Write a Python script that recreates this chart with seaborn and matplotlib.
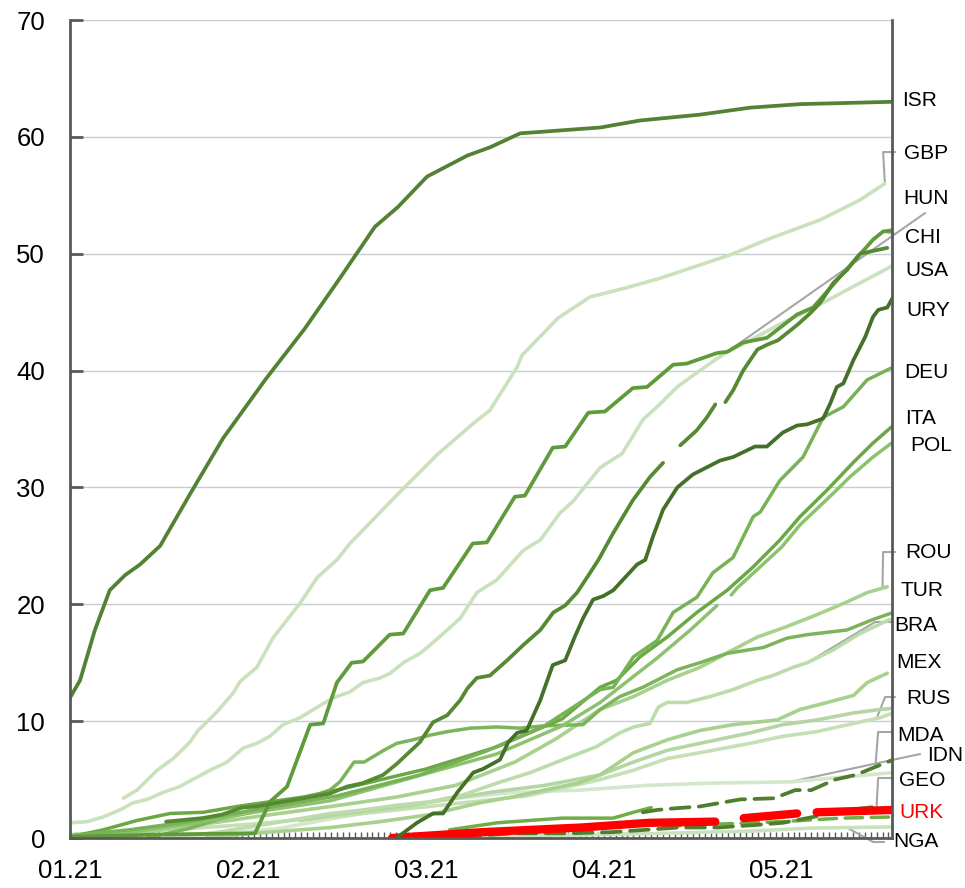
import numpy as np
import pandas as pd
import matplotlib
matplotlib.use("Agg")
import matplotlib.pyplot as plt
from matplotlib.ticker import MultipleLocator
import seaborn as sns

# days counted from 01.01.2021, values = % of population with a first dose
ISR_DAYS = [0, 1.7, 4.2, 6.7, 9.3, 11.8, 15.2, 20.2, 25.8, 32.9, 39.6, 45.5, 51.4, 55.3, 60.2, 67, 70.8, 75.9, 89.4, 96.1, 106.2, 114.7, 123.1, 138.6]
ISR_VALS = [12, 13.5, 17.8, 21.2, 22.5, 23.4, 25, 29.4, 34.2, 39.2, 43.6, 47.9, 52.3, 54, 56.6, 58.4, 59.1, 60.3, 60.8, 61.4, 61.9, 62.5, 62.8, 63.0]

GBP_DAYS = [9, 11.3, 14.7, 17.4, 20.2, 21.6, 24.8, 27.5, 28.7, 31.5, 34.2, 38.8, 41.7, 45, 47.2, 51.4, 55.6, 61.9, 68.3, 70.8, 75.4, 76.2, 82.3, 87.7, 93.9, 99.5, 111.3, 117.5, 126.5, 133.2, 137.4]
GBP_VALS = [3.4, 4.1, 5.8, 6.8, 8.2, 9.2, 10.8, 12.4, 13.4, 14.6, 17.1, 20.1, 22.3, 23.8, 25.2, 27.4, 29.6, 32.8, 35.6, 36.6, 40.3, 41.3, 44.5, 46.3, 47.1, 47.9, 49.9, 51.2, 52.9, 54.6, 56.0]

USA_DAYS = [0, 2.9, 5.6, 8.4, 10.6, 13, 15.7, 18.5, 21.4, 23.6, 26.5, 29.2, 31.5, 33.7, 35.9, 38.8, 41.7, 44.4, 47.2, 49.4, 52.3, 54, 56.2, 59, 60.7, 63.6, 65.8, 68.6, 72, 76.4, 79.3, 82.6, 84.8, 89.4, 93.1, 96.6, 99, 102.4, 105.1, 107.9, 110.8, 114.7, 120.2, 123.1, 127.7, 133.2, 136.6, 138.8]
USA_VALS = [1.3, 1.4, 1.8, 2.4, 3.0, 3.3, 3.9, 4.4, 5.2, 5.8, 6.5, 7.7, 8.1, 8.7, 9.7, 10.3, 11.2, 12.0, 12.5, 13.3, 13.7, 14.1, 15.0, 15.8, 16.5, 17.8, 18.8, 21.0, 22.1, 24.6, 25.5, 27.8, 28.8, 31.7, 32.9, 35.8, 36.9, 38.6, 39.6, 40.6, 41.6, 42.6, 44.1, 44.8, 46.0, 47.5, 48.4, 49.0]

CHI_DAYS = [0, 15, 31.2, 33.7, 36.6, 40.5, 42.7, 45, 47.5, 49.4, 53.9, 56.2, 60.7, 62.9, 67.9, 70.3, 75, 76.7, 81.4, 83.5, 87.4, 90.2, 94.9, 97.3, 101.7, 104, 109.1, 110.8, 113.5, 117.5, 122.6, 125.3, 129.8, 135.4, 137.1, 138.6]
CHI_VALS = [0.1, 0.3, 0.4, 3.1, 4.4, 9.7, 9.8, 13.3, 15.0, 15.1, 17.4, 17.5, 21.2, 21.4, 25.2, 25.3, 29.2, 29.3, 33.4, 33.5, 36.4, 36.5, 38.5, 38.6, 40.5, 40.6, 41.5, 41.6, 42.4, 42.8, 44.8, 45.4, 48.0, 51.2, 51.9, 52.0]

HUN_DAYS = [16.2, 22.3, 25.6, 29, 31.4, 35.9, 40.5, 43.8, 46.7, 49.4, 52.8, 55, 59, 61.2, 63.6, 65.8, 67, 68.6, 70.8, 73.7, 76.4, 79.3, 81.5, 83.5, 85.5, 87.7, 89.1, 91.6, 94.9, 97.8, 100, 101.5, 102.9, 105.7, 107.4, 108.8, 109.6, 110.5, 111.8, 113.5, 115.9, 117.5, 119.4, 122.6, 124.8, 126.5, 128.7, 131, 133.2, 137.8]
HUN_VALS = [1.4, 1.7, 2.0, 2.6, 2.7, 3.1, 3.5, 3.8, 4.4, 4.7, 5.4, 6.3, 8.2, 9.9, 10.5, 11.8, 12.8, 13.7, 13.9, 15.2, 16.5, 17.8, 19.3, 19.9, 21.0, 22.7, 23.8, 26.1, 28.9, 30.9, 32.1, np.nan, 33.6, 34.9, 36.0, 37.1, np.nan, 37.3, 38.3, 40.0, 41.8, 42.2, 42.6, 43.9, 44.9, 45.8, 47.5, 48.6, 50.0, 50.5]

URY_DAYS = [55.3, 58.5, 61.2, 62.9, 65.3, 68, 69.6, 72.5, 73.9, 75.4, 77, 79.3, 81.4, 83.5, 85.1, 86.5, 88.2, 89.9, 91.6, 95.6, 97, 98.3, 100, 102.4, 105, 109.6, 111.8, 115.5, 117.5, 120.2, 122.6, 124.3, 127, 128.2, 129.3, 130.4, 132.1, 134.1, 135.4, 136.3, 137.8, 138.8]
URY_VALS = [0.1, 1.3, 2.1, 2.1, 3.9, 5.6, 5.9, 6.7, 8.2, 9.0, 9.2, 11.8, 14.8, 15.2, 17.2, 18.8, 20.4, 20.7, 21.2, 23.4, 23.8, 25.8, 28.1, 30.0, 31.1, 32.3, 32.6, 33.5, 33.5, 34.7, 35.3, 35.4, 35.9, 37.2, 38.6, 38.9, 40.9, 42.9, 44.6, 45.2, 45.4, 46.3]

DEU_DAYS = [0, 10, 20, 31, 45, 59, 70, 80, 89.4, 91.6, 95, 99, 101.7, 105.7, 108.4, 111.8, 115.2, 116.4, 119.7, 123.6, 127, 130.4, 134.4, 138.8]
DEU_VALS = [0.2, 0.7, 1.4, 2.4, 3.6, 5.4, 7.4, 9.6, 12.7, 12.9, 15.5, 16.9, 19.3, 20.6, 22.7, 24.0, 27.5, 27.9, 30.6, 32.6, 36.0, 36.9, 39.2, 40.3]

ITA_DAYS = [0, 5.6, 11.3, 16.9, 22.5, 28.2, 33.7, 39.3, 45, 60, 72, 83, 89.4, 92.2, 96.1, 100.7, 105.7, 110.8, 115.2, 119.7, 123.1, 127.7, 132, 135.4, 138.8]
ITA_VALS = [0.1, 0.7, 1.5, 2.1, 2.2, 2.7, 3.1, 3.5, 4.1, 5.9, 7.8, 10.2, 12.9, 13.5, 15.5, 17.2, 19.3, 21.2, 23.2, 25.5, 27.5, 29.8, 32.1, 33.8, 35.3]

POL_DAYS = [0, 10, 20, 31, 44, 60, 72, 83, 89.4, 99, 104.6, 109.1, 110.3, 111.5, 112.5, 120, 123.1, 128.7, 131.5, 135.4, 138.8]
POL_VALS = [0.1, 0.5, 1.2, 2.2, 3.2, 5.5, 7.2, 9.6, 11.6, 15.4, 17.8, 19.9, np.nan, 20.8, 21.4, 24.9, 26.8, 29.5, 30.9, 32.6, 33.9]

TUR_DAYS = [13, 20, 25, 31, 36, 41, 43.8, 45.5, 47.9, 49.6, 52.9, 55.1, 57.8, 60.7, 63.6, 67.5, 72, 75.9, 80, 86.5, 89.4, 92.7, 96.6, 102.4, 106.2, 110.8, 116.9, 120.9, 124.3, 131, 135.4, 138.8]
TUR_VALS = [0.0, 0.8, 1.6, 2.3, 2.9, 3.6, 4.1, 4.8, 6.5, 6.5, 7.5, 8.1, 8.4, 8.8, 9.1, 9.4, 9.5, 9.4, 9.6, 9.7, 11.0, 12.1, 12.9, 14.4, 15.0, 15.8, 16.3, 17.1, 17.4, 17.8, 18.7, 19.3]

ROU_DAYS = [0, 10, 20, 31, 44, 55, 65, 75, 82, 89.4, 95, 100.7, 106.2, 111.8, 115.9, 120.9, 125.9, 131, 134.4, 137.8]
ROU_VALS = [0.0, 0.3, 1.0, 1.8, 2.7, 3.5, 4.5, 6.5, 8.5, 11.0, 12.1, 13.5, 14.6, 16.1, 17.2, 18.1, 19.1, 20.2, 21.0, 21.5]

BRA_DAYS = [16, 25, 31, 44, 49.4, 55.1, 60.7, 66.3, 72, 77.6, 83.1, 88.7, 92.7, 95, 97.8, 99.2, 100.7, 104, 107.9, 111.8, 115.9, 118.5, 121.9, 124.3, 128.7, 133.2, 138.2]
BRA_VALS = [0.0, 0.5, 1.0, 2.1, 2.4, 2.8, 3.1, 3.7, 4.7, 5.6, 6.7, 7.8, 9.0, 9.5, 9.8, 11.2, 11.6, 11.6, 12.1, 12.7, 13.5, 13.9, 14.6, 15.0, 16.1, 17.5, 18.7]

MEX_DAYS = [23, 31, 44, 52.3, 60.7, 69, 74.5, 80, 85.6, 89.4, 95, 100.7, 106.2, 111.8, 119.2, 123.1, 127.7, 132.1, 134.4, 137.8]
MEX_VALS = [0.05, 0.4, 0.9, 1.4, 2.0, 3.0, 3.5, 4.1, 4.7, 5.4, 7.3, 8.4, 9.2, 9.7, 10.1, 11.0, 11.6, 12.2, 13.3, 14.1]

RUS_DAYS = [0, 20, 31, 44, 55, 66, 77, 89.4, 95, 100.7, 106.2, 114.7, 120.2, 125.9, 132.1, 136.6, 138.8]
RUS_VALS = [0.3, 0.8, 1.2, 1.8, 2.4, 3.0, 3.6, 5.0, 5.8, 6.8, 7.3, 8.1, 8.7, 9.1, 9.8, 10.3, 10.7]

SRB_DAYS = [38.8, 45, 56.2, 70.8, 80, 89.4, 95, 100.7, 106.2, 114.7, 120.2, 125.9, 132.1, 136.6, 138.8]
SRB_VALS = [1.5, 2.0, 2.7, 3.9, 4.5, 5.4, 6.5, 7.5, 8.1, 9.0, 9.7, 10.1, 10.7, 11.0, 11.1]

IDN_DAYS = [20, 35, 52.3, 63.6, 74.7, 86, 97.3, 108.4, 121.4, 130, 138.8]
IDN_VALS = [0.1, 0.8, 2.4, 3.3, 3.9, 4.1, 4.5, 4.7, 4.8, 5.2, 5.6]

ARM_DAYS = [64, 72, 83, 91.6, 95, 98]
ARM_VALS = [0.7, 1.3, 1.7, 1.7, 2.2, 2.6]

MDA_DAYS = [96.6, 99, 101, 106.2, 113, 118.7, 122.3, 125, 129, 132.5, 138.8]
MDA_VALS = [2.2, 2.4, 2.5, 2.7, 3.3, 3.4, 4.1, 4.1, 5.0, 5.4, 6.7]

GEO_DAYS = [66, 74.5, 83.6, 91.4, 102.7, 109.4, 115.2, 120.2, 125.3, 131, 136.6]
GEO_VALS = [0.1, 0.4, 0.4, 0.5, 0.9, 0.9, 1.1, 1.3, 1.8, 2.4, 2.7]

KAZ_DAYS = [100, 110, 120, 130, 138.8]
KAZ_VALS = [1.0, 1.2, 1.4, 1.7, 1.8]

URK_DAYS = [54.3, 69.5, 86.3, 97.6, 108.8, 110, 113.6, 122.6, 124.5, 125.9, 138.8]
URK_VALS = [0.0, 0.5, 0.9, 1.3, 1.4, np.nan, 1.7, 2.1, np.nan, 2.2, 2.4]

NGA_DAYS = [63, 80, 100, 115, 125, 138.8]
NGA_VALS = [0.05, 0.2, 0.4, 0.6, 0.85, 0.95]

TICK_DAYS = [0, 30, 60, 90, 120]
TICK_LABELS = ["01.21", "02.21", "03.21", "04.21", "05.21"]

sns.set_theme(style="white")
plt.rcParams["font.family"] = ["Liberation Sans", "DejaVu Sans"]

# name, days, values, colour, width, dashed
series = [
    ("NGA", NGA_DAYS, NGA_VALS, "#c9e2bd", 2.6, False),
    ("IDN", IDN_DAYS, IDN_VALS, "#d3e8ca", 2.6, False),
    ("RUS", RUS_DAYS, RUS_VALS, "#c5e0b4", 2.6, False),
    ("SRB", SRB_DAYS, SRB_VALS, "#b5d6a2", 2.6, False),
    ("MEX", MEX_DAYS, MEX_VALS, "#a9d18e", 2.6, False),
    ("BRA", BRA_DAYS, BRA_VALS, "#bcdcaa", 2.6, False),
    ("ROU", ROU_DAYS, ROU_VALS, "#a9d18e", 2.6, False),
    ("GBP", GBP_DAYS, GBP_VALS, "#c9e2bd", 2.6, False),
    ("USA", USA_DAYS, USA_VALS, "#c9e2bd", 2.6, False),
    ("TUR", TUR_DAYS, TUR_VALS, "#7cb45c", 2.5, False),
    ("POL", POL_DAYS, POL_VALS, "#8cc26e", 2.5, False),
    ("ITA", ITA_DAYS, ITA_VALS, "#6aa844", 2.5, False),
    ("DEU", DEU_DAYS, DEU_VALS, "#78b257", 2.5, False),
    ("ARM", ARM_DAYS, ARM_VALS, "#70ad47", 2.5, False),
    ("KAZ", KAZ_DAYS, KAZ_VALS, "#70ad47", 2.5, True),
    ("GEO", GEO_DAYS, GEO_VALS, "#4f7e2e", 2.7, True),
    ("MDA", MDA_DAYS, MDA_VALS, "#4f7e2e", 2.7, True),
    ("URK", URK_DAYS, URK_VALS, "#ff0000", 6.0, False),
    ("CHI", CHI_DAYS, CHI_VALS, "#5f9b3b", 2.7, False),
    ("HUN", HUN_DAYS, HUN_VALS, "#558a33", 2.7, False),
    ("URY", URY_DAYS, URY_VALS, "#44702a", 2.7, False),
    ("ISR", ISR_DAYS, ISR_VALS, "#548235", 2.7, False),
]

fig = plt.figure(figsize=(9.65, 8.88), dpi=100)
ax = fig.add_axes([70 / 965, 50 / 888, 822 / 965, 818 / 888])

for name, days, vals, col, lw, dashed in series:
    df = pd.DataFrame({"day": days, "val": vals})
    # split at gaps so every piece is drawn as its own unit
    df["seg"] = df["val"].isna().cumsum()
    df = df.dropna()
    sns.lineplot(data=df, x="day", y="val", units="seg", estimator=None, sort=False,
                 color=col, linewidth=lw, ax=ax, legend=False,
                 linestyle=(0, (5, 2.5)) if dashed else "-",
                 solid_capstyle="round", dash_capstyle="round")

ax.set_xlim(0, 138.6)
ax.set_ylim(0, 70)
ax.set_xlabel("")
ax.set_ylabel("")

ax.yaxis.set_major_locator(MultipleLocator(10))
ax.grid(axis="y", color="#c8ccd0", linewidth=1)
ax.set_axisbelow(True)
ax.set_xticks(TICK_DAYS)
ax.set_xticklabels(TICK_LABELS)
ax.xaxis.set_minor_locator(MultipleLocator(1))
ax.tick_params(axis="x", which="both", direction="in", length=4, width=1,
               color="#595959", labelsize=18.5, labelcolor="black", pad=15, bottom=True)
ax.tick_params(axis="y", which="major", direction="in", length=9, width=2,
               color="#595959", labelsize=18.5, labelcolor="black", pad=18, left=True)

for side in ["left", "bottom", "right"]:
    ax.spines[side].set_visible(True)
    ax.spines[side].set_color("#595959")
    ax.spines[side].set_linewidth(2)
ax.spines["top"].set_visible(False)


def px(x, y):
    # picture position -> data position, used for labels and leaders only
    return (x - 70) / 5.93, (838 - y) / 11.686


def at(days, vals, d):
    return d, float(np.interp(d, days, np.nan_to_num(np.array(vals, dtype=float))))


labels = [
    ("ISR", 902, 100), ("GBP", 904, 153), ("HUN", 903, 198), ("CHI", 905, 237),
    ("USA", 905, 270), ("URY", 906, 310), ("DEU", 904, 372), ("ITA", 905, 418),
    ("POL", 910, 445), ("ROU", 905, 552), ("TUR", 900, 590), ("BRA", 894, 625),
    ("MEX", 896, 662), ("RUS", 906, 698), ("MDA", 897, 735), ("IDN", 927, 755),
    ("GEO", 899, 780), ("URK", 899, 812), ("NGA", 893, 842),
]
for name, lx, ly in labels:
    x, y = px(lx, ly)
    ax.text(x, y, name, fontsize=15, ha="left", va="center", clip_on=False,
            color="#ff0000" if name == "URK" else "black")

leaders = [
    ([(895, 152), (883, 152)], at(GBP_DAYS, GBP_VALS, 137.4)),
    ([(925, 213)], at(CHI_DAYS, CHI_VALS, 110.8)),
    ([(895, 234)], at(CHI_DAYS, CHI_VALS, 137.1)),
    ([(895, 552), (883, 552)], at(ROU_DAYS, ROU_VALS, 137.0)),
    ([(893, 622), (875, 622)], at(BRA_DAYS, BRA_VALS, 124.3)),
    ([(895, 697), (885, 697)], at(RUS_DAYS, RUS_VALS, 136.0)),
    ([(892, 732), (878, 732)], at(MDA_DAYS, MDA_VALS, 135.8)),
    ([(920, 754)], at(IDN_DAYS, IDN_VALS, 121.4)),
    ([(893, 778), (878, 778)], at(GEO_DAYS, GEO_VALS, 136.0)),
    ([(884, 842), (873, 842)], at(NGA_DAYS, NGA_VALS, 131.0)),
]
for pts, end in leaders:
    xy = [px(a, b) for a, b in pts] + [end]
    ax.plot([p[0] for p in xy], [p[1] for p in xy], color="#a6a6a6", lw=1.5,
            clip_on=False, zorder=1)

fig.savefig("out.png", dpi=100)
